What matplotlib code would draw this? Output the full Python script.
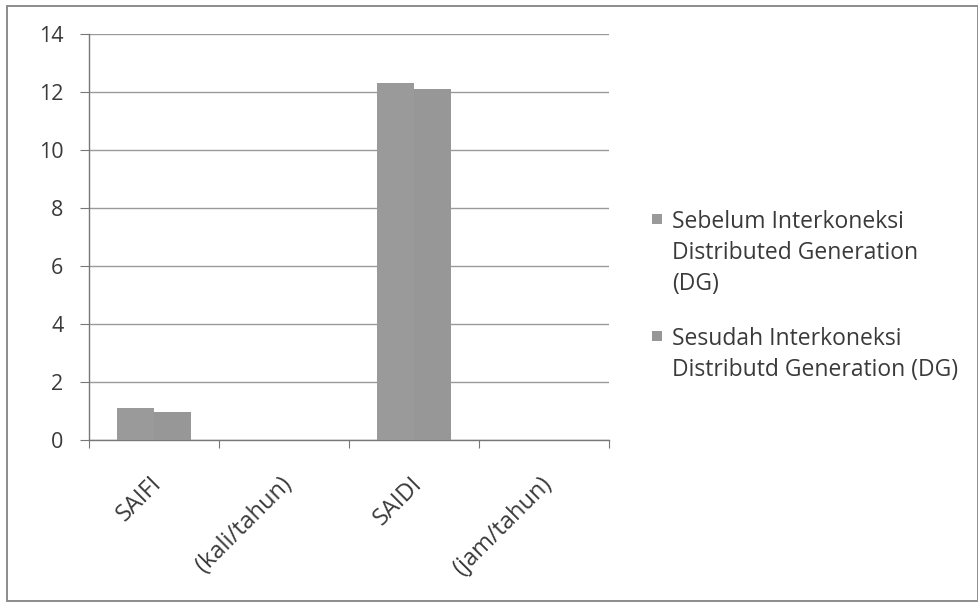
import matplotlib
matplotlib.use("Agg")
import matplotlib.pyplot as plt
import numpy as np
from matplotlib.patches import Rectangle

categories = ["SAIFI", "(kali/tahun)", "SAIDI", "(jam/tahun)"]
sebelum = [1.10, 0.0, 12.30, 0.0]
sesudah = [0.97, 0.0, 12.10, 0.0]
series_labels = ["Sebelum Interkoneksi\nDistributed Generation\n(DG)",
                 "Sesudah Interkoneksi\nDistributd Generation (DG)"]
y_ticks = [0, 2, 4, 6, 8, 10, 12, 14]

plt.rcParams['font.family'] = ['Open Sans', 'DejaVu Sans']

W, H = 979, 607
fig = plt.figure(figsize=(W / 100, H / 100), dpi=100)
ax = fig.add_axes([89 / W, 1 - 440 / H, (609 - 89) / W, (440 - 34) / H])

# outer chart border
fig.patches.append(Rectangle((7 / W, 6 / H), 1 - 7 / W - 0.001, 1 - 12 / H,
                             transform=fig.transFigure, fill=False,
                             edgecolor='#8c8c8c', linewidth=1.4))

text_color = '#3a3a3a'
colors = ['#9a9a9a', '#979797']

x = np.arange(len(categories))
w = 0.285
ax.bar(x - w / 2, sebelum, w, color=colors[0], zorder=3)
ax.bar(x + w / 2, sesudah, w, color=colors[1], zorder=3)

ax.set_xlim(-0.5, len(categories) - 0.5)
ax.set_ylim(0, 14)
ax.set_yticks(y_ticks)
ax.yaxis.grid(True, color='#9a9a9a', linewidth=1.0, zorder=0)
ax.set_axisbelow(True)

for s in ['top', 'right']:
    ax.spines[s].set_visible(False)
for s in ['left', 'bottom']:
    ax.spines[s].set_color('#777777')
    ax.spines[s].set_linewidth(1.0)

# category boundaries carry the tick marks, centers carry the labels
ax.set_xticks(np.arange(len(categories) + 1) - 0.5)
ax.set_xticklabels([])
ax.tick_params(axis='x', which='major', length=6, color='#777777')
ax.set_xticks(x - 0.03, minor=True)
ax.set_xticklabels(categories, minor=True, rotation=45, ha='right',
                   rotation_mode='anchor', fontsize=17, color=text_color)
ax.tick_params(axis='x', which='minor', length=0, pad=23)
ax.tick_params(axis='y', length=6.5, color='#777777', labelsize=15.5,
               labelcolor=text_color, pad=12)

# legend: square marker aligned with the first line of each entry
fs = 16.5
line_px = 32
entry_tops = [210, 327]
for lab, col, top in zip(series_labels, colors, entry_tops):
    fig.text(672 / W, 1 - top / H, lab, fontsize=fs, color=text_color,
             va='top', ha='left', linespacing=line_px / (fs * 100 / 72))
    fig.patches.append(Rectangle((652 / W, 1 - (top + 14) / H), 10 / W, 10 / H,
                                 transform=fig.transFigure, facecolor=col,
                                 edgecolor='none'))

fig.savefig("out.png", dpi=100, facecolor='white')
